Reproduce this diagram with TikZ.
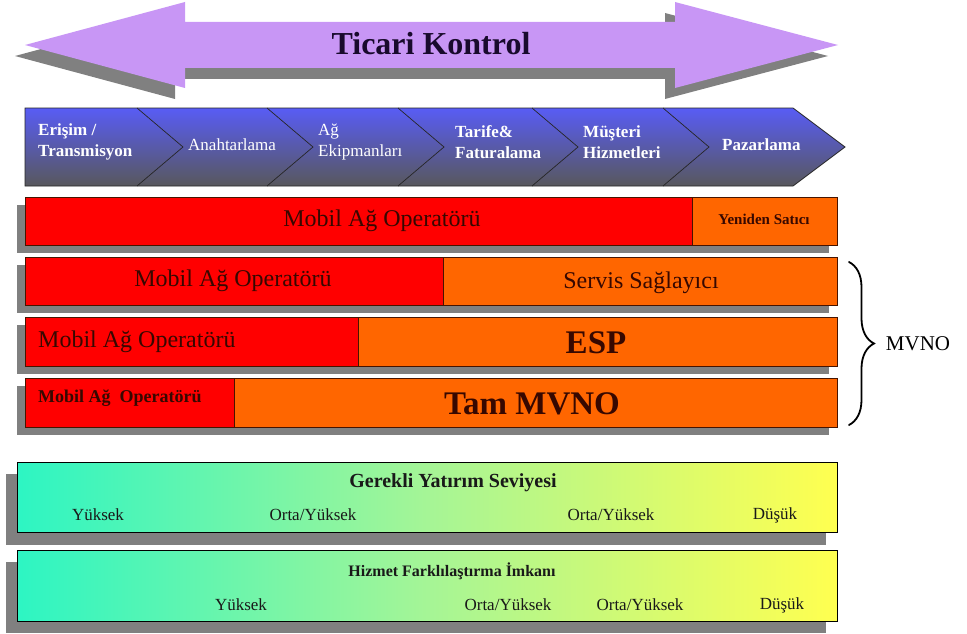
\documentclass[tikz,border=0pt]{standalone}
\usepackage{fontspec}
\setmainfont{Liberation Serif}
\usetikzlibrary{decorations.pathreplacing}

\definecolor{lilac}{RGB}{200,150,245}
\definecolor{shadowgray}{RGB}{128,128,128}
\definecolor{mnored}{RGB}{255,0,0}
\definecolor{mnoorange}{RGB}{255,102,0}
\definecolor{barline}{RGB}{70,20,0}
\definecolor{bartext}{RGB}{55,8,0}
\definecolor{chevtop}{RGB}{88,92,245}
\definecolor{chevmid}{RGB}{72,72,190}
\definecolor{chevbot}{RGB}{88,88,92}
\definecolor{bandleft}{RGB}{45,245,195}
\definecolor{bandmid}{RGB}{165,245,150}
\definecolor{bandright}{RGB}{255,255,80}
\definecolor{titleink}{RGB}{25,10,45}
\definecolor{bandink}{RGB}{25,25,25}

\begin{document}
\begin{tikzpicture}[x=1pt,y=-1pt,
  box/.style={anchor=north west, inner sep=0pt, outer sep=0pt, draw=barline, line width=0.8pt},
  redbox/.style={box, fill=mnored},
  orangebox/.style={box, fill=mnoorange},
  bandbox/.style={anchor=north west, inner sep=0pt, outer sep=0pt, draw=black, line width=0.9pt,
    left color=bandleft, right color=bandright, middle color=bandmid},
  shadowfill/.style={fill=shadowgray},
  chevtext/.style={text=white, font=\fontsize{17}{21}\selectfont, align=left, anchor=west, inner sep=0pt},
  chevbold/.style={chevtext, font=\fontsize{17}{21}\selectfont\bfseries},
  barlabel/.style={text=bartext, inner sep=0pt, font=\fontsize{24}{28}\selectfont},
  barbig/.style={text=bartext, inner sep=0pt, font=\fontsize{33}{38}\selectfont\bfseries},
  bandlabel/.style={text=bandink, inner sep=0pt, font=\fontsize{17}{20}\selectfont},
  divider/.style={draw=black!85, line width=0.7pt}
]
\useasboundingbox (0,0) rectangle (967,634);

% ---- double-headed arrow with its drop shadow ----
\begin{scope}[shift={(-10,11)}]
  \fill[shadowfill] (25,45) -- (185,2) -- (185,22) -- (675,22) -- (675,2) -- (838,45)
    -- (675,88) -- (675,68) -- (185,68) -- (185,88) -- cycle;
\end{scope}
\fill[lilac] (25,45) -- (185,2) -- (185,22) -- (675,22) -- (675,2) -- (838,45)
  -- (675,88) -- (675,68) -- (185,68) -- (185,88) -- cycle;
\node[text=titleink, font=\fontsize{32}{36}\selectfont\bfseries] (title) at (431,44) {Ticari Kontrol};

% ---- value chain band ----
\path[top color=chevtop, middle color=chevmid, bottom color=chevbot]
  (25,108) -- (793,108) -- (845,147) -- (793,186) -- (25,186) -- cycle;
\draw[black!85, line width=0.8pt]
  (25,108) -- (793,108) -- (845,147) -- (793,186) -- (25,186) -- cycle;
\foreach \xs in {137,267,398,532,663}
  \draw[divider] (\xs,108) -- (\xs+46,147) -- (\xs,186);

\node[chevbold] (erisim)  at (38,142)  {Erişim /\\Transmisyon};
\node[chevtext] (anahtar) at (188,145) {Anahtarlama};
\node[chevtext] (ekipman) at (318,142) {Ağ\\Ekipmanları};
\node[chevbold] (tarife)  at (455,142) {Tarife\&\\Faturalama};
\node[chevbold] (musteri) at (583,142) {Müşteri\\Hizmetleri};
\node[chevbold] (pazar)   at (722,145) {Pazarlama};

% ---- operator model rows: shadows first ----
\fill[shadowfill] (17,205) rectangle (829,253);
\fill[shadowfill] (17,265) rectangle (829,313);
\fill[shadowfill] (17,325) rectangle (829,374);
\fill[shadowfill] (17,386) rectangle (829,435);

% row 1
\node[redbox,    minimum width=667pt, minimum height=48pt] (mnoA)   at (25,197)  {};
\node[orangebox, minimum width=145pt, minimum height=48pt] (resale) at (692,197) {};
% row 2
\node[redbox,    minimum width=418pt, minimum height=48pt] (mnoB)   at (25,257)  {};
\node[orangebox, minimum width=394pt, minimum height=48pt] (sp)     at (443,257) {};
% row 3
\node[redbox,    minimum width=333pt, minimum height=49pt] (mnoC)   at (25,317)  {};
\node[orangebox, minimum width=479pt, minimum height=49pt] (esp)    at (358,317) {};
% row 4
\node[redbox,    minimum width=209pt, minimum height=49pt] (mnoD)   at (25,378)  {};
\node[orangebox, minimum width=603pt, minimum height=49pt] (full)   at (234,378) {};

\node[barlabel] (tA) at (382,221) {Mobil Ağ Operatörü};
\node[text=bartext, inner sep=0pt, font=\fontsize{15}{17}\selectfont\bfseries] (tResale) at (764,219) {Yeniden Satıcı};
\node[barlabel] (tB) at (233,281) {Mobil Ağ Operatörü};
\node[barlabel] (tSP) at (641,283) {Servis Sağlayıcı};
\node[barlabel, anchor=west] (tC) at (38,342) {Mobil Ağ Operatörü};
\node[barbig] (tESP) at (596,343) {ESP};
\node[text=bartext, inner sep=0pt, anchor=west, font=\fontsize{18}{20}\selectfont\bfseries] (tD) at (38,398) {Mobil Ağ\ \ Operatörü};
\node[barbig] (tFull) at (532,404) {Tam MVNO};

% ---- MVNO brace ----
\coordinate (braceTop) at (849,262);
\coordinate (braceBot) at (849,425);
\draw[decorate, decoration={brace, amplitude=25pt, aspect=0.5}, line width=1.8pt, line cap=round] (braceTop) -- (braceBot);
\node[text=black, inner sep=0pt, font=\fontsize{21}{24}\selectfont] (mvno) at (918,344) {MVNO};

% ---- bottom comparison bands ----
\fill[shadowfill] (6,474) rectangle (826,545);
\fill[shadowfill] (6,562) rectangle (826,633);
\node[bandbox, minimum width=820pt, minimum height=70pt] (invest) at (17,462) {};
\node[bandbox, minimum width=820pt, minimum height=71pt] (diff)   at (17,550) {};

\node[text=bandink, inner sep=0pt, font=\fontsize{20}{22}\selectfont\bfseries] (investT) at (453,483) {Gerekli Yatırım Seviyesi};
\node[bandlabel] (i1) at (98,515)  {Yüksek};
\node[bandlabel] (i2) at (313,515) {Orta/Yüksek};
\node[bandlabel] (i3) at (611,515) {Orta/Yüksek};
\node[bandlabel] (i4) at (775,515) {Düşük};

\node[text=bandink, inner sep=0pt, font=\fontsize{16}{18}\selectfont\bfseries] (diffT) at (452,571) {Hizmet Farklılaştırma İmkanı};
\node[bandlabel] (d1) at (241,605) {Yüksek};
\node[bandlabel] (d2) at (508,605) {Orta/Yüksek};
\node[bandlabel] (d3) at (640,605) {Orta/Yüksek};
\node[bandlabel] (d4) at (782,605) {Düşük};
\end{tikzpicture}
\end{document}
